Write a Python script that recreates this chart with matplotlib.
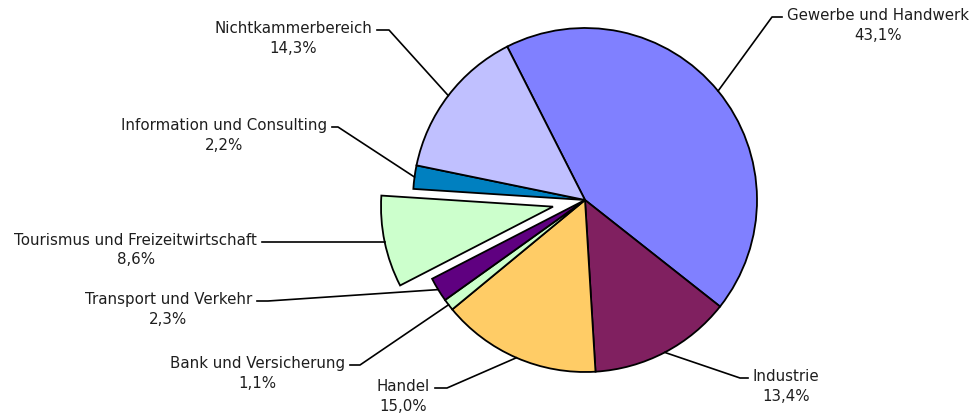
import matplotlib
matplotlib.use('Agg')
import matplotlib.pyplot as plt
import numpy as np

# Daten
labels = ["Gewerbe und Handwerk", "Industrie", "Handel", "Bank und Versicherung",
          "Transport und Verkehr", "Tourismus und Freizeitwirtschaft",
          "Information und Consulting", "Nichtkammerbereich"]
values = [43.1, 13.4, 15.0, 1.1, 2.3, 8.6, 2.2, 14.3]
colors = ["#8080FF", "#802060", "#FFCC66", "#CCFFCC", "#5F0080", "#CCFFCC", "#0080C0", "#C0C0FF"]
explode_frac = [0, 0, 0, 0, 0, 0.19, 0, 0]

W, H = 974, 416
cx, cy, R = 585, 200, 172      # Pixelkoordinaten
start = 116.9

# Beschriftungsposition (Pixel): Seite, Textkante x, Knick (x, y)
label_pos = {
    "Gewerbe und Handwerk": ("left", 787, (772, 17)),
    "Industrie": ("left", 753, (740, 378)),
    "Handel": ("right", 430, (447, 388)),
    "Bank und Versicherung": ("right", 345, (360, 365)),
    "Transport und Verkehr": ("right", 252, (268, 301)),
    "Tourismus und Freizeitwirtschaft": ("right", 257, (268, None)),
    "Information und Consulting": ("right", 327, (338, 127)),
    "Nichtkammerbereich": ("right", 372, (389, 30)),
}

def P(x, y):
    return x, H - y

fig = plt.figure(figsize=(W / 100, H / 100), dpi=100)
ax = fig.add_axes([0, 0, 1, 1])

explode = [e * R for e in explode_frac]
ax.pie(values, colors=colors, startangle=start, counterclock=False,
       center=P(cx, cy), radius=R, explode=explode,
       wedgeprops=dict(edgecolor='black', linewidth=1.3))
ax.set_xlim(0, W)
ax.set_ylim(0, H)
ax.set_aspect('equal')
ax.axis('off')

total = sum(values)
cum = 0.0
for lab, val, ex in zip(labels, values, explode):
    mid = np.deg2rad(start - (cum + val / 2) / total * 360)
    cum += val
    ox, oy = P(cx, cy)
    ox += ex * np.cos(mid)
    oy += ex * np.sin(mid)
    px, py = ox + R * np.cos(mid), oy + R * np.sin(mid)

    side, tx, (kx, ky) = label_pos[lab]
    ky = py if ky is None else H - ky
    gap = 5
    ex_end = tx - gap if side == "left" else tx + gap
    ax.plot([px, kx, ex_end], [py, ky, ky], color='black', lw=1.2)

    pct = f"{val:.1f}%".replace(".", ",")
    ax.text(tx, ky + 9, f"{lab}\n{pct}", ha=side, va='top',
            multialignment='center', fontsize=10.8, linespacing=1.38,
            color='#1e1e1e', family='DejaVu Sans')

fig.savefig("out.png", dpi=100)
